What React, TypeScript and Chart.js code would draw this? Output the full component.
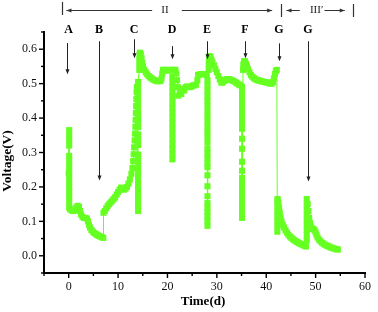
import { useEffect, useRef } from 'react';
import { Chart, registerables } from 'chart.js';

Chart.register(...registerables);

// ---- data: [time (d), voltage (V)] ----
const segmentA: [number, number][] = [
  [0, 0.24],
  [0.1, 0.365], [0.1, 0.35], [0.1, 0.335], [0.1, 0.32], [0.1, 0.29], [0.1, 0.275], [0.1, 0.26],
  [0.1, 0.245], [0.1, 0.23], [0.1, 0.215], [0.1, 0.2], [0.1, 0.185], [0.1, 0.17], [0.1, 0.155], [0.1, 0.14],
  [0.3, 0.135], [0.6, 0.132], [0.9, 0.13], [1.2, 0.132], [1.5, 0.14], [1.8, 0.145], [2.1, 0.142],
  [2.3, 0.13], [2.5, 0.12], [2.8, 0.113], [3.1, 0.11], [3.4, 0.11], [3.7, 0.108], [3.9, 0.1],
  [4.1, 0.09], [4.3, 0.082], [4.6, 0.075], [4.9, 0.07], [5.2, 0.066], [5.5, 0.063], [5.8, 0.06],
  [6.1, 0.058], [6.4, 0.056], [6.7, 0.054], [7.0, 0.052],
];

const segmentB: [number, number][] = [
  [7.05, 0.125], [7.3, 0.13], [7.6, 0.138], [7.9, 0.145], [8.2, 0.15], [8.5, 0.155], [8.8, 0.16],
  [9.1, 0.165], [9.4, 0.17], [9.7, 0.178], [10.0, 0.185], [10.3, 0.192], [10.6, 0.198], [10.9, 0.195],
  [11.2, 0.192], [11.5, 0.195], [11.8, 0.2], [12.1, 0.21], [12.4, 0.222], [12.7, 0.238], [12.9, 0.255],
  [13.05, 0.275], [13.15, 0.295], [13.25, 0.315], [13.35, 0.335], [13.42, 0.355], [13.5, 0.375],
  [13.55, 0.395], [13.6, 0.415], [13.65, 0.435], [13.7, 0.455], [13.75, 0.475], [13.8, 0.49],
];

const segmentC: [number, number][] = [
  [14.05, 0.13], [14.05, 0.145], [14.05, 0.16], [14.05, 0.175], [14.05, 0.19], [14.05, 0.205],
  [14.05, 0.22], [14.05, 0.235], [14.05, 0.25], [14.05, 0.265], [14.05, 0.28], [14.05, 0.294],
  [14.05, 0.322], [14.05, 0.337], [14.05, 0.352], [14.05, 0.374], [14.05, 0.389], [14.05, 0.404],
  [14.05, 0.419], [14.05, 0.434], [14.05, 0.449], [14.05, 0.464], [14.05, 0.479], [14.05, 0.49],
  [14.05, 0.505],
  [14.3, 0.54], [14.3, 0.555], [14.3, 0.57], [14.35, 0.585], [14.45, 0.59], [14.6, 0.585],
  [14.75, 0.575], [14.9, 0.56], [15.05, 0.55], [15.3, 0.54], [15.6, 0.533], [15.9, 0.527],
  [16.2, 0.522], [16.5, 0.518], [16.8, 0.515], [17.1, 0.512], [17.4, 0.51], [17.7, 0.508],
  [18.0, 0.507], [18.3, 0.507], [18.6, 0.508], [18.8, 0.515], [18.95, 0.53], [19.1, 0.54],
  [19.4, 0.54], [19.7, 0.54], [20.0, 0.538], [20.3, 0.538], [20.6, 0.54], [20.9, 0.54],
];

const segmentD: [number, number][] = [
  [21.0, 0.28], [21.0, 0.295], [21.0, 0.31], [21.0, 0.325], [21.0, 0.34], [21.0, 0.355], [21.0, 0.37],
  [21.0, 0.385], [21.0, 0.4], [21.0, 0.415], [21.0, 0.43], [21.0, 0.445], [21.0, 0.46], [21.0, 0.475],
  [21.0, 0.49], [21.0, 0.505], [21.0, 0.52],
  [21.3, 0.54], [21.6, 0.54], [21.8, 0.53], [21.95, 0.51], [22.1, 0.49], [22.2, 0.465], [22.5, 0.475],
  [22.8, 0.47], [23.1, 0.485], [23.4, 0.48], [23.7, 0.49], [24.0, 0.492], [24.3, 0.49], [24.6, 0.49],
  [24.9, 0.492], [25.2, 0.495], [25.5, 0.495], [25.8, 0.497], [26.05, 0.51], [26.2, 0.525],
  [26.5, 0.527], [26.8, 0.527], [27.1, 0.528], [27.4, 0.528], [27.7, 0.527], [27.95, 0.525],
];

const segmentE: [number, number][] = [
  [28.1, 0.51], [28.1, 0.495], [28.1, 0.48], [28.1, 0.465], [28.1, 0.45], [28.1, 0.435], [28.1, 0.42],
  [28.1, 0.405], [28.1, 0.39], [28.1, 0.375], [28.1, 0.36], [28.1, 0.345], [28.1, 0.33], [28.1, 0.312],
  [28.1, 0.298], [28.1, 0.284], [28.1, 0.27], [28.1, 0.257], [28.1, 0.234], [28.1, 0.202], [28.1, 0.173],
  [28.1, 0.153], [28.1, 0.14], [28.1, 0.127], [28.1, 0.114], [28.1, 0.1], [28.1, 0.087],
  [28.35, 0.54], [28.35, 0.555], [28.4, 0.57], [28.5, 0.58], [28.7, 0.578], [28.9, 0.57],
  [29.1, 0.562], [29.4, 0.553], [29.7, 0.543], [30.0, 0.533], [30.3, 0.522], [30.6, 0.512],
  [30.9, 0.503], [31.2, 0.503], [31.5, 0.508], [31.8, 0.512], [32.1, 0.513], [32.4, 0.513],
  [32.7, 0.512], [33.0, 0.51], [33.3, 0.508], [33.6, 0.506], [33.9, 0.503], [34.2, 0.5],
  [34.5, 0.497], [34.8, 0.495],
];

const segmentF: [number, number][] = [
  [35.1, 0.49], [35.1, 0.475], [35.1, 0.46], [35.1, 0.445], [35.1, 0.43], [35.1, 0.415], [35.1, 0.4],
  [35.1, 0.385], [35.1, 0.369], [35.1, 0.34], [35.1, 0.311], [35.1, 0.273], [35.1, 0.247], [35.1, 0.226],
  [35.1, 0.21], [35.1, 0.195], [35.1, 0.18], [35.1, 0.165], [35.1, 0.15], [35.1, 0.135], [35.1, 0.12],
  [35.1, 0.11],
  [35.3, 0.54], [35.35, 0.555], [35.5, 0.565], [35.7, 0.565], [35.9, 0.558], [36.1, 0.55],
  [36.3, 0.542], [36.6, 0.533], [36.9, 0.525], [37.2, 0.52], [37.5, 0.516], [37.8, 0.513],
  [38.1, 0.511], [38.4, 0.51], [38.7, 0.508], [39.0, 0.507], [39.3, 0.506], [39.6, 0.505],
  [39.9, 0.504], [40.2, 0.503], [40.5, 0.502], [40.8, 0.5], [41.1, 0.5], [41.35, 0.505],
  [41.55, 0.515], [41.75, 0.528], [41.95, 0.537], [42.15, 0.54],
];

const segmentG1: [number, number][] = [
  [42.25, 0.07], [42.25, 0.085], [42.25, 0.1], [42.25, 0.115], [42.25, 0.13], [42.25, 0.145],
  [42.25, 0.16], [42.3, 0.165],
  [42.45, 0.155], [42.6, 0.14], [42.75, 0.125], [42.9, 0.112], [43.1, 0.1], [43.35, 0.09],
  [43.6, 0.082], [43.9, 0.074], [44.2, 0.067], [44.5, 0.061], [44.8, 0.056], [45.1, 0.052],
  [45.4, 0.048], [45.7, 0.045], [46.0, 0.042], [46.3, 0.04], [46.6, 0.037], [46.9, 0.035],
  [47.2, 0.033], [47.5, 0.031], [47.8, 0.029], [48.05, 0.027],
];

const segmentG2: [number, number][] = [
  [48.2, 0.045], [48.2, 0.06], [48.2, 0.075], [48.2, 0.09], [48.2, 0.105], [48.2, 0.12],
  [48.2, 0.135], [48.2, 0.15], [48.2, 0.165],
  [48.4, 0.15], [48.55, 0.13], [48.7, 0.11], [48.85, 0.095], [49.0, 0.085], [49.2, 0.08],
  [49.4, 0.078], [49.6, 0.077], [49.8, 0.074], [50.0, 0.068], [50.2, 0.06], [50.4, 0.053],
  [50.7, 0.047], [51.0, 0.042], [51.3, 0.038], [51.6, 0.035], [51.9, 0.032], [52.2, 0.03],
  [52.5, 0.028], [52.8, 0.026], [53.1, 0.024], [53.4, 0.023], [53.7, 0.021], [54.0, 0.02],
  [54.3, 0.019], [54.5, 0.018],
];

// ---- axes ----
const xMajorTicks = [0, 10, 20, 30, 40, 50, 60];
const xMinorTicks = [-5, 5, 15, 25, 35, 45, 55];
const yMajorTicks = [0.0, 0.1, 0.2, 0.3, 0.4, 0.5, 0.6];
const yMinorTicks = [-0.05, 0.05, 0.15, 0.25, 0.35, 0.45, 0.55, 0.65];

// ---- annotations (letters & arrows) ----
const markLetters = ['A', 'B', 'C', 'D', 'E', 'F', 'G', 'G'];
const markTimes = [-0.25, 6.2, 13.2, 20.85, 28.05, 35.65, 42.55, 48.55];
const arrowFrom = [0.618, 0.623, 0.629, 0.609, 0.623, 0.623, 0.617, 0.623];
const arrowTo = [0.527, 0.219, 0.574, 0.571, 0.571, 0.574, 0.565, 0.216];

const GREEN = '#66ff22';
const SERIF = '"Liberation Serif", "Times New Roman", serif';

const allPoints = [
  ...segmentA, ...segmentB, ...segmentC, ...segmentD,
  ...segmentE, ...segmentF, ...segmentG1, ...segmentG2,
].map(([t, v]) => ({ x: t, y: v }));

const decorPlugin = {
  id: 'decor',
  afterDraw(chart: any) {
    const { ctx, chartArea } = chart;
    const xs = chart.scales.x;
    const ys = chart.scales.y;
    ctx.save();
    ctx.strokeStyle = '#000';
    ctx.fillStyle = '#000';
    ctx.lineWidth = 1.4;
    const line = (x1: number, y1: number, x2: number, y2: number) => {
      ctx.beginPath();
      ctx.moveTo(x1, y1);
      ctx.lineTo(x2, y2);
      ctx.stroke();
    };
    xMajorTicks.forEach((v) => {
      const px = xs.getPixelForValue(v);
      line(px, chartArea.bottom, px, chartArea.bottom + 5);
    });
    xMinorTicks.forEach((v) => {
      const px = xs.getPixelForValue(v);
      line(px, chartArea.bottom, px, chartArea.bottom + 3);
    });
    yMajorTicks.forEach((v) => {
      const py = ys.getPixelForValue(v);
      line(chartArea.left, py, chartArea.left - 5, py);
    });
    yMinorTicks.forEach((v) => {
      const py = ys.getPixelForValue(v);
      line(chartArea.left, py, chartArea.left - 3, py);
    });

    // axis titles
    ctx.fillStyle = '#000';
    ctx.font = `bold 13px ${SERIF}`;
    ctx.textAlign = 'center';
    ctx.textBaseline = 'middle';
    ctx.fillText('Time(d)', 203, 302);
    ctx.save();
    ctx.translate(8, 161);
    ctx.rotate(-Math.PI / 2);
    ctx.font = `bold 13.5px ${SERIF}`;
    ctx.fillText('Voltage(V)', 0, 0);
    ctx.restore();

    // letters and arrows
    const arrowDown = (x: number, y1: number, y2: number) => {
      ctx.strokeStyle = '#222';
      ctx.fillStyle = '#222';
      ctx.lineWidth = 1;
      line(x, y1, x, y2 - 4);
      ctx.beginPath();
      ctx.moveTo(x - 2, y2 - 5);
      ctx.lineTo(x + 2, y2 - 5);
      ctx.lineTo(x, y2);
      ctx.closePath();
      ctx.fill();
    };
    ctx.font = `bold 12px ${SERIF}`;
    markLetters.forEach((L, i) => {
      const px = xs.getPixelForValue(markTimes[i]);
      ctx.fillStyle = '#000';
      ctx.fillText(L, Math.round(px) + (i === 0 ? 1.5 : 0), 30);
      arrowDown(Math.round(px) + 0.5, ys.getPixelForValue(arrowFrom[i]), ys.getPixelForValue(arrowTo[i]));
    });

    // header brackets
    ctx.strokeStyle = '#333';
    ctx.fillStyle = '#333';
    const hArrow = (x1: number, x2: number, y: number, head: 'left' | 'right') => {
      ctx.lineWidth = 1;
      line(x1, y, x2, y);
      ctx.beginPath();
      if (head === 'left') {
        ctx.moveTo(x1, y);
        ctx.lineTo(x1 + 5, y - 2);
        ctx.lineTo(x1 + 5, y + 2);
      } else {
        ctx.moveTo(x2, y);
        ctx.lineTo(x2 - 5, y - 2);
        ctx.lineTo(x2 - 5, y + 2);
      }
      ctx.closePath();
      ctx.fill();
    };
    const X = (t: number) => xs.getPixelForValue(t);
    ctx.lineWidth = 1.2;
    line(Math.round(X(-1.4)) + 0.5, 2, Math.round(X(-1.4)) + 0.5, 15);
    line(Math.round(X(43)) + 0.5, 4, Math.round(X(43)) + 0.5, 17);
    line(Math.round(X(57.6)) + 0.5, 4, Math.round(X(57.6)) + 0.5, 17);
    hArrow(X(-0.46), X(16.9), 10.5, 'left');
    hArrow(X(22.9), X(41.2), 10.5, 'right');
    hArrow(X(44.1), X(46.8), 10.5, 'left');
    hArrow(X(51.8), X(55.9), 10.5, 'right');
    ctx.fillStyle = '#222';
    ctx.font = `11px ${SERIF}`;
    ctx.fillText('II', X(19.5), 10);
    ctx.fillText('III\u2032', X(50.2), 10.5);
    ctx.restore();
  },
};

export default function App() {
  const ref = useRef<HTMLCanvasElement>(null);
  useEffect(() => {
    if (!ref.current) return;
    const chart = new Chart(ref.current, {
      type: 'scatter',
      data: {
        datasets: [
          {
            data: allPoints,
            showLine: true,
            borderColor: GREEN,
            borderWidth: 1,
            backgroundColor: GREEN,
            pointStyle: 'rect',
            pointRadius: 4.3,
            pointBorderWidth: 0,
            pointBackgroundColor: GREEN,
            tension: 0,
          },
        ],
      },
      options: {
        responsive: false,
        animation: false,
        events: [],
        layout: { padding: { top: 32, right: 9, left: 0, bottom: 0 } },
        plugins: { legend: { display: false }, tooltip: { enabled: false } },
        scales: {
          x: {
            type: 'linear',
            min: -5,
            max: 60,
            grid: { display: false, drawTicks: false },
            border: { display: true, color: '#000', width: 2 },
            afterBuildTicks: (s: any) => {
              s.ticks = xMajorTicks.map((v) => ({ value: v }));
            },
            afterFit: (s: any) => {
              s.height = 39;
            },
            ticks: {
              padding: 7,
              color: '#111',
              font: { family: SERIF, size: 12 },
              maxRotation: 0,
              callback: (v: any) => String(v),
            },
          },
          y: {
            type: 'linear',
            min: -0.05,
            max: 0.65,
            grid: { display: false, drawTicks: false },
            border: { display: true, color: '#000', width: 2 },
            afterBuildTicks: (s: any) => {
              s.ticks = yMajorTicks.map((v) => ({ value: v }));
            },
            afterFit: (s: any) => {
              s.width = 44;
            },
            ticks: {
              padding: 7,
              color: '#111',
              font: { family: SERIF, size: 12 },
              callback: (v: any) => Number(v).toFixed(1),
            },
          },
        },
      },
      plugins: [decorPlugin],
    });
    return () => chart.destroy();
  }, []);
  return (
    <div style={{ position: 'fixed', left: 0, top: 0, width: 378, height: 312, background: '#fff' }}>
      <canvas ref={ref} width={378} height={312} style={{ display: 'block' }} />
    </div>
  );
}
